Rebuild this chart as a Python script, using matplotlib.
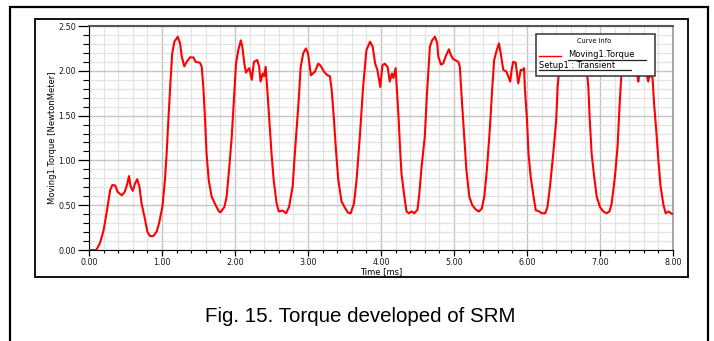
import matplotlib
matplotlib.use("Agg")
import matplotlib.pyplot as plt
from matplotlib.patches import Rectangle
from matplotlib.ticker import MultipleLocator, FormatStrFormatter

# =========================================================
# DATA
# =========================================================

time_ms = [
    0.00, 0.10, 0.15, 0.20, 0.24, 0.29, 0.32, 0.36, 0.39, 0.45, 0.49, 0.525, 0.548, 0.57, 0.60,
    0.63, 0.66, 0.69, 0.72, 0.76, 0.80, 0.835, 0.88, 0.927, 0.96, 1.005, 1.04, 1.064, 1.087,
    1.115, 1.14, 1.17, 1.215, 1.247, 1.27, 1.306, 1.338, 1.383, 1.43, 1.46, 1.52, 1.544, 1.566,
    1.59, 1.61, 1.64, 1.68, 1.735, 1.78, 1.80, 1.855, 1.885, 1.918, 1.955, 1.98, 2.014, 2.045,
    2.08, 2.10, 2.128, 2.15, 2.196, 2.23, 2.26, 2.305, 2.33, 2.35, 2.38, 2.40, 2.42, 2.44, 2.47,
    2.50, 2.53, 2.57, 2.60, 2.65, 2.70, 2.74, 2.79, 2.82, 2.87, 2.90, 2.935, 2.97, 3.00, 3.04,
    3.095, 3.14, 3.17, 3.22, 3.265, 3.30, 3.325, 3.356, 3.38, 3.415, 3.46, 3.51, 3.55, 3.585,
    3.63, 3.665, 3.71, 3.755, 3.80, 3.85, 3.886, 3.92, 3.95, 3.99, 4.02, 4.05, 4.09, 4.12, 4.15,
    4.17, 4.20, 4.215, 4.24, 4.26, 4.28, 4.32, 4.35, 4.38, 4.42, 4.456, 4.50, 4.525, 4.556, 4.60,
    4.63, 4.67, 4.70, 4.74, 4.77, 4.785, 4.82, 4.85, 4.886, 4.93, 4.96, 4.99, 5.06, 5.08, 5.11,
    5.14, 5.17, 5.21, 5.25, 5.30, 5.34, 5.38, 5.415, 5.45, 5.49, 5.525, 5.55, 5.585, 5.616, 5.64,
    5.675, 5.72, 5.77, 5.79, 5.81, 5.845, 5.88, 5.915, 5.94, 5.96, 5.97, 6.00, 6.02, 6.05, 6.09,
    6.12, 6.17, 6.20, 6.25, 6.28, 6.315, 6.36, 6.40, 6.42, 6.44, 6.48, 6.52, 6.56, 6.60, 6.65,
    6.70, 6.75, 6.80, 6.82, 6.84, 6.86, 6.885, 6.92, 6.955, 7.00, 7.045, 7.09, 7.13, 7.16, 7.205,
    7.24, 7.27, 7.29, 7.32, 7.36, 7.40, 7.44, 7.48, 7.51, 7.525, 7.54, 7.60, 7.64, 7.66, 7.68,
    7.72, 7.74, 7.77, 7.80, 7.83, 7.87, 7.90, 7.94, 7.97, 8.00,
]

torque_nm = [
    0.00, 0.00, 0.075, 0.22, 0.41, 0.67, 0.725, 0.72, 0.65, 0.61, 0.65, 0.74, 0.825, 0.71, 0.66,
    0.74, 0.79, 0.71, 0.52, 0.37, 0.205, 0.155, 0.155, 0.205, 0.30, 0.48, 0.78, 1.08, 1.45,
    1.86, 2.195, 2.325, 2.38, 2.31, 2.16, 2.05, 2.10, 2.15, 2.15, 2.10, 2.09, 2.045, 1.82,
    1.45, 1.08, 0.78, 0.595, 0.50, 0.43, 0.42, 0.48, 0.595, 0.89, 1.26, 1.60, 2.08, 2.23,
    2.34, 2.27, 2.08, 1.98, 2.03, 1.90, 2.10, 2.12, 2.05, 1.88, 1.97, 1.94, 2.045, 1.82, 1.45,
    1.08, 0.78, 0.52, 0.43, 0.44, 0.41, 0.48, 0.71, 1.08, 1.64, 2.045, 2.195, 2.25, 2.195, 1.95,
    1.99, 2.08, 2.06, 1.99, 1.95, 1.94, 1.785, 1.45, 1.15, 0.78, 0.54, 0.465, 0.415, 0.41,
    0.52, 0.78, 1.265, 1.82, 2.23, 2.325, 2.27, 2.08, 2.01, 1.82, 2.06, 2.08, 2.045, 1.88, 1.97,
    1.92, 2.03, 1.82, 1.49, 1.15, 0.855, 0.595, 0.43, 0.41, 0.43, 0.41, 0.45, 0.63, 0.93, 1.265,
    1.75, 2.27, 2.34, 2.38, 2.31, 2.16, 2.07, 2.08, 2.16, 2.24, 2.17, 2.13, 2.10, 2.045, 1.64,
    1.265, 0.89, 0.595, 0.50, 0.45, 0.43, 0.46, 0.595, 0.89, 1.34, 1.82, 2.12, 2.23, 2.305, 2.195,
    2.01, 1.99, 1.88, 2.01, 2.10, 2.09, 1.86, 2.01, 2.01, 2.03, 1.82, 1.45, 1.08, 0.82, 0.595,
    0.445, 0.43, 0.41, 0.41, 0.48, 0.71, 1.08, 1.45, 1.82, 2.01, 2.18, 2.30, 2.33, 2.20, 2.10,
    2.12, 2.05, 2.03, 2.01, 1.82, 1.45, 1.08, 0.82, 0.595, 0.48, 0.43, 0.41, 0.43, 0.52, 0.82,
    1.15, 1.64, 1.92, 2.12, 2.28, 2.35, 2.22, 2.05, 1.96, 1.88, 1.97, 2.05, 1.96, 1.88, 1.96,
    1.92, 1.64, 1.34, 1.00, 0.71, 0.50, 0.41, 0.43, 0.41, 0.40,
]

x_ticks = [0, 1, 2, 3, 4, 5, 6, 7, 8]
y_ticks = [0.0, 0.5, 1.0, 1.5, 2.0, 2.5]

# =========================================================
# FIGURE
# =========================================================

fig = plt.figure(figsize=(7.14, 3.41), dpi=100)
fig.patch.set_facecolor("white")

# outer frame and inner panel box (pixel positions -> figure fractions)
W, H = 714.0, 341.0
fig.add_artist(Rectangle((10 / W, -0.1), 698 / W, 1.1 - 7 / H, transform=fig.transFigure,
                         fill=False, edgecolor="black", linewidth=1.6))
fig.add_artist(Rectangle((35 / W, 1 - 277 / H), 653 / W, 258 / H, transform=fig.transFigure,
                         fill=False, edgecolor="#111111", linewidth=1.4))

ax = fig.add_axes([89 / W, 1 - 250 / H, 584 / W, 224 / H])

ax.plot(time_ms, torque_nm, color="#ff0000", linewidth=1.5, zorder=3)

ax.set_xlim(0, 8)
ax.set_ylim(0, 2.5)
ax.set_xticks(x_ticks)
ax.set_yticks(y_ticks)
ax.xaxis.set_minor_locator(MultipleLocator(0.2))
ax.yaxis.set_minor_locator(MultipleLocator(0.1))
ax.xaxis.set_major_formatter(FormatStrFormatter("%.2f"))
ax.yaxis.set_major_formatter(FormatStrFormatter("%.2f"))

ax.grid(which="minor", color="#e3e3e3", linewidth=0.9)
ax.grid(which="major", color="#c4c4c4", linewidth=1.0)
ax.set_axisbelow(True)

ax.tick_params(axis="both", which="major", labelsize=5.8, length=4, width=0.9, pad=1.5,
               labelcolor="#1a1a1a")
ax.tick_params(axis="y", which="major", length=8)
ax.tick_params(axis="both", which="minor", length=2.5, width=0.8)
ax.tick_params(axis="y", which="minor", length=4)

ax.spines["left"].set_color("black")
ax.spines["bottom"].set_color("black")
ax.spines["top"].set_color("#555555")
ax.spines["top"].set_linewidth(1.5)
ax.spines["right"].set_color("#999999")
ax.spines["right"].set_linewidth(1.2)

ax.set_xlabel("Time [ms]", fontsize=6, labelpad=0)
ax.set_ylabel("Moving1.Torque [NewtonMeter]", fontsize=6, labelpad=1)

# "Curve Info" box drawn in axes fractions
ax.add_patch(Rectangle((0.765, 0.777), 0.204, 0.187, transform=ax.transAxes,
                       facecolor="white", edgecolor="#333333", linewidth=1.1, zorder=5))
ax.text(0.865, 0.933, "Curve Info", transform=ax.transAxes, fontsize=4.8,
        ha="center", va="center", zorder=6)
ax.plot([0.771, 0.808], [0.866, 0.866], transform=ax.transAxes, color="#ff0000",
        linewidth=1.0, zorder=6)
ax.text(0.820, 0.871, "Moving1.Torque", transform=ax.transAxes, fontsize=6,
        ha="left", va="center", zorder=6)
ax.plot([0.820, 0.954], [0.846, 0.846], transform=ax.transAxes, color="#222222",
        linewidth=0.9, zorder=6)
ax.text(0.771, 0.823, "Setup1 : Transient", transform=ax.transAxes, fontsize=6,
        ha="left", va="center", zorder=6)
ax.plot([0.771, 0.928], [0.802, 0.802], transform=ax.transAxes, color="#222222",
        linewidth=0.9, zorder=6)

# caption
fig.text(360 / W, 1 - 316 / H, "Fig. 15. Torque developed of SRM", fontsize=14.8,
         family="Liberation Sans", ha="center", va="center")

fig.savefig("out.png", dpi=100)
